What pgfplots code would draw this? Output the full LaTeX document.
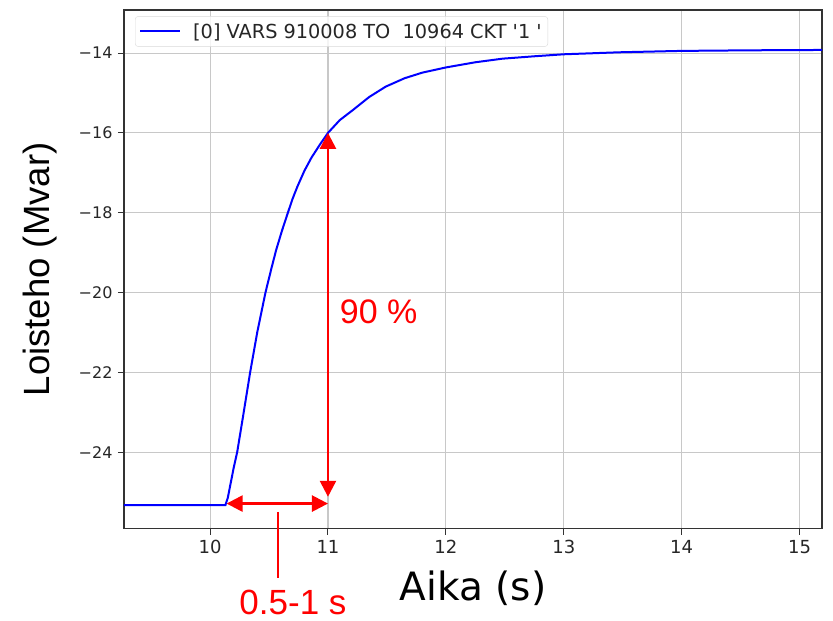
\documentclass[border=0pt]{standalone}
\usepackage{pgfplots}
\pgfplotsset{compat=1.18}
\usepackage{fontspec}
\setmainfont{DejaVu Sans}
\newfontfamily\arial{Liberation Sans}
\usetikzlibrary{arrows.meta}
\definecolor{gridgray}{RGB}{200,200,200}
\begin{document}
\begin{tikzpicture}
\begin{axis}[
  name=main,
  scale only axis=true,
  width=698bp, height=518.7bp,
  xmin=9.27, xmax=15.19,
  ymin=-25.92, ymax=-12.92,
  xtick={10,11,12,13,14,15},
  ytick={-24,-22,-20,-18,-16,-14},
  yticklabels={−24,−22,−20,−18,−16,−14},
  /pgf/number format/assume math mode=true,
  tick pos=left,
  tick align=outside,
  major tick length=6bp,
  tick style={black!80, line width=1bp},
  grid=major,
  grid style={gridgray, line width=1.1bp},
  axis line style={black!80, line width=1.2bp},
  ticklabel style={text=black!85},
  xticklabel style={font=\fontsize{18bp}{21bp}\selectfont, yshift=-2bp},
  yticklabel style={font=\fontsize{16bp}{19bp}\selectfont, xshift=-2bp},
  xlabel={Aika (s)},
  ylabel={\arial Loisteho (Mvar)},
  xlabel style={font=\fontsize{39bp}{42bp}\selectfont, at={(axis description cs:0.5,-0.1375)}, anchor=base},
  ylabel style={font=\fontsize{36.5bp}{40bp}\selectfont, at={(axis description cs:-0.1203,0.5)}, anchor=center},
  clip mode=individual,
  legend style={at={(0.0158,0.988)}, anchor=north west, draw=black!15, rounded corners=3bp,
    fill=white, fill opacity=0.8, text opacity=1, font=\fontsize{19.3bp}{22bp}\selectfont,
    inner xsep=4bp, inner ysep=5bp, text=black!85},
  legend cell align=left,
  legend image code/.code={\draw[#1] (0bp,0bp) -- (40bp,0bp); \path (50bp,0bp);},
]
\addplot[blue, line width=2bp] coordinates {
(9.00,-25.33) (10.13,-25.33) (10.15,-25.15) (10.17,-24.85) (10.20,-24.40) (10.23,-24.00)
(10.28,-23.10) (10.34,-22.00) (10.40,-21.00) (10.47,-20.00) (10.52,-19.40) (10.56,-18.94)
(10.61,-18.45) (10.66,-18.00) (10.70,-17.65) (10.74,-17.35) (10.80,-16.95) (10.86,-16.62)
(10.93,-16.30) (11.00,-16.00) (11.10,-15.68) (11.21,-15.43) (11.35,-15.10) (11.49,-14.84)
(11.65,-14.63) (11.80,-14.49) (12.00,-14.36) (12.25,-14.23) (12.48,-14.14) (12.75,-14.08)
(13.00,-14.03) (13.47,-13.98) (14.00,-13.945) (14.60,-13.93) (15.30,-13.92)
};
\addlegendentry{[0] VARS 910008 TO\ \ 10964 CKT \textquotesingle1 \textquotesingle}
\draw[red, line width=2.5bp, {Triangle[length=16bp,width=16bp]}-{Triangle[length=16bp,width=16bp]}]
  (axis cs:11.0,-16.0) -- (axis cs:11.0,-25.12);
\draw[red, line width=2.5bp, {Triangle[length=16bp,width=16bp]}-{Triangle[length=16bp,width=16bp]}]
  (axis cs:10.14,-25.29) -- (axis cs:11.0,-25.29);
\draw[red, line width=1.2bp] (axis cs:10.576,-25.5) -- (axis cs:10.576,-27.15);
\node[red, anchor=base, font=\arial\fontsize{35bp}{40bp}\selectfont, inner sep=0pt] at (axis cs:10.703,-28.06) {0.5-1 s};
\node[red, anchor=base west, font=\arial\fontsize{34bp}{40bp}\selectfont, inner sep=0pt] at (axis cs:11.10,-20.78) {90 \%};
\end{axis}
\pgfresetboundingbox
\useasboundingbox (main.south west) ++(-124bp,-92.3bp) rectangle ++(833bp,621bp);
\end{tikzpicture}
\end{document}
